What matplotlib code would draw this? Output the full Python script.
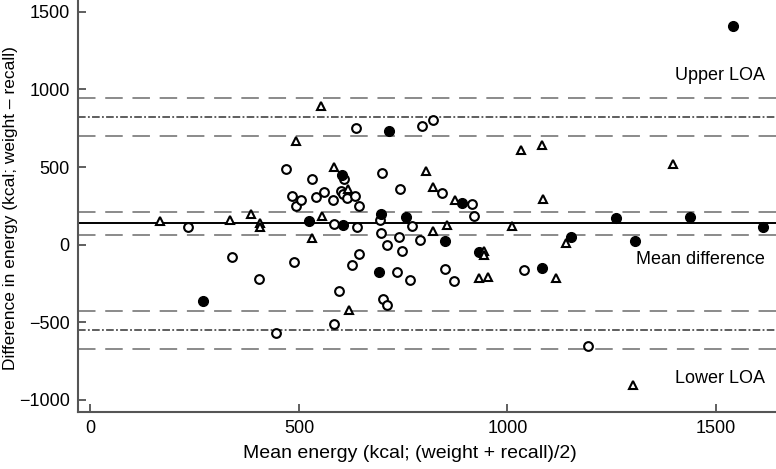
import matplotlib
matplotlib.use("Agg")
import matplotlib.pyplot as plt

plt.rcParams['font.family'] = ['Liberation Sans', 'DejaVu Sans']

# open circles
circ_x = [233, 340, 403, 488, 445, 470, 483, 494, 505, 531, 540, 559, 581, 600, 606, 608, 616,
          635, 645, 636, 794, 821, 699, 743, 585, 639, 694, 772, 697, 739, 790, 712, 747, 644,
          626, 736, 767, 595, 702, 712, 584, 844, 914, 919, 851, 872, 1039, 1194]
circ_y = [113, -80, -220, -110, -572, 487, 315, 251, 285, 423, 309, 341, 285, 345, 324, 425, 302,
          311, 249, 751, 766, 803, 461, 358, 135, 111, 158, 122, 77, 49, 30, -3, -41, -63,
          -129, -175, -226, -299, -349, -389, -512, 330, 262, 182, -155, -232, -166, -653]

# filled circles
fill_x = [271, 525, 603, 606, 696, 717, 756, 691, 891, 851, 932, 1083, 1153, 1261, 1306, 1438, 1541, 1613]
fill_y = [-363, 152, 448, 126, 199, 730, 178, -177, 266, 25, -50, -153, 51, 169, 21, 178, 1408, 115]

# triangles
tri_x = [166, 335, 385, 406, 406, 492, 552, 585, 617, 556, 532, 619, 804, 822, 822, 873, 856,
         1011, 1032, 1082, 1085, 1141, 944, 944, 932, 954, 1116, 1397, 1302]
tri_y = [154, 158, 199, 141, 111, 669, 893, 498, 356, 186, 42, -419, 476, 371, 90, 285, 124,
         118, 611, 644, 294, 12, -39, -65, -213, -209, -217, 519, -905]

mean_diff = 137
mean_ci = [64, 208]
upper_loa = 824
upper_ci = [702, 943]
lower_loa = -548
lower_ci = [-671, -428]

fig = plt.figure(figsize=(7.76, 4.69), dpi=100)
ax = fig.add_axes([0.1005, 0.1215, 0.8995, 0.8785])

dash_kw = dict(color="#8a8a8a", lw=1.4, dashes=(9, 5), zorder=1)
dd_kw = dict(color="#333333", lw=1.1, dashes=(5, 1.5, 1.2, 1.5), zorder=1)
for v in mean_ci + upper_ci + lower_ci:
    ax.axhline(v, **dash_kw)
ax.axhline(upper_loa, **dd_kw)
ax.axhline(lower_loa, **dd_kw)
ax.axhline(mean_diff, color="black", lw=1.4, zorder=1)

ax.plot(circ_x, circ_y, "o", ms=6.3, mfc="white", mec="black", mew=1.5, ls="none", zorder=3)
ax.plot(fill_x, fill_y, "o", ms=7, mfc="black", mec="black", ls="none", zorder=3)
ax.plot(tri_x, tri_y, "^", ms=6.3, mfc="white", mec="black", mew=1.5, ls="none", zorder=3)

ax.text(1617, 1092, "Upper LOA", ha="right", va="center", fontsize=13)
ax.text(1617, -93, "Mean difference", ha="right", va="center", fontsize=13)
ax.text(1617, -860, "Lower LOA", ha="right", va="center", fontsize=13)

ax.set_xlim(-30, 1644)
ax.set_ylim(-1078, 1576)
ax.set_xticks([0, 500, 1000, 1500])
ax.set_yticks([-1000, -500, 0, 500, 1000, 1500])
ax.set_yticklabels(["\u22121000", "\u2212500", "0", "500", "1000", "1500"])
ax.tick_params(direction="in", length=6, width=1.2, color="#444444", labelsize=13, pad=6)
for s in ["top", "right"]:
    ax.spines[s].set_visible(False)
for s in ["left", "bottom"]:
    ax.spines[s].set_color("#555555")
    ax.spines[s].set_linewidth(1.5)

ax.set_xlabel("Mean energy (kcal; (weight + recall)/2)", fontsize=14, va="center")
ax.set_ylabel("Difference in energy (kcal; weight \u2013 recall)", fontsize=12.5, va="center")
ax.xaxis.set_label_coords(0.476, -0.0995)
ax.yaxis.set_label_coords(-0.097, 0.495)

fig.savefig("out.png", dpi=100)
